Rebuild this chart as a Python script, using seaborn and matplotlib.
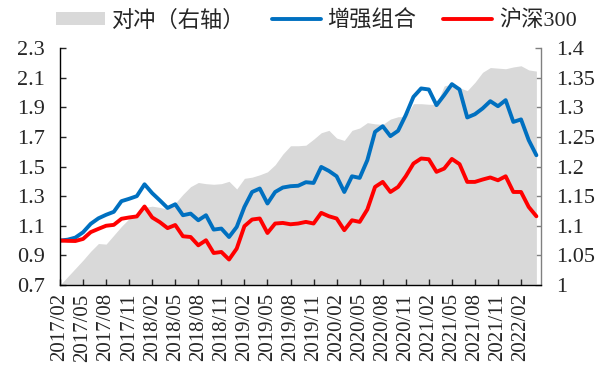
import numpy as np
import pandas as pd
import matplotlib
matplotlib.use("Agg")
import matplotlib.pyplot as plt
import seaborn as sns
from matplotlib.patches import Patch
from matplotlib.lines import Line2D

# -----------------------------
# data
# -----------------------------
months = pd.period_range("2017-02", "2022-04", freq="M").strftime("%Y/%m").tolist()

enhanced = [1.00, 1.006, 1.02, 1.056, 1.113, 1.15, 1.174, 1.194, 1.266, 1.282,
            1.30, 1.38, 1.32, 1.271, 1.22, 1.245, 1.171, 1.182, 1.137, 1.171,
            1.074, 1.081, 1.024, 1.092, 1.227, 1.328, 1.351, 1.25, 1.328, 1.358,
            1.367, 1.37, 1.394, 1.389, 1.497, 1.47, 1.434, 1.328, 1.434, 1.423,
            1.543, 1.734, 1.772, 1.705, 1.741, 1.847, 1.97, 2.027, 2.02, 1.914,
            1.982, 2.056, 2.02, 1.831, 1.853, 1.892, 1.941, 1.907, 1.948, 1.801,
            1.818, 1.678, 1.576]

hs300 = [1.00, 0.998, 0.997, 1.011, 1.057, 1.079, 1.10, 1.106, 1.147, 1.156,
         1.163, 1.23, 1.156, 1.124, 1.084, 1.105, 1.029, 1.024, 0.968, 1.002,
         0.916, 0.923, 0.872, 0.946, 1.097, 1.142, 1.149, 1.051, 1.115, 1.119,
         1.11, 1.115, 1.126, 1.115, 1.187, 1.164, 1.149, 1.07, 1.137, 1.126,
         1.21, 1.362, 1.396, 1.328, 1.362, 1.434, 1.52, 1.554, 1.549, 1.464,
         1.486, 1.551, 1.516, 1.396, 1.396, 1.412, 1.426, 1.407, 1.434, 1.328,
         1.328, 1.227, 1.164]

hedge = [1.000, 1.014, 1.028, 1.042, 1.057, 1.07, 1.069, 1.084, 1.099, 1.112,
         1.12, 1.131, 1.133, 1.131, 1.128, 1.138, 1.153, 1.166, 1.173, 1.171,
         1.17, 1.171, 1.175, 1.162, 1.18, 1.182, 1.186, 1.191, 1.203, 1.221,
         1.235, 1.235, 1.236, 1.246, 1.257, 1.261, 1.248, 1.244, 1.261, 1.265,
         1.274, 1.272, 1.271, 1.28, 1.284, 1.284, 1.306, 1.306, 1.305, 1.305,
         1.336, 1.339, 1.333, 1.328, 1.342, 1.359, 1.367, 1.366, 1.365, 1.368,
         1.37, 1.363, 1.361]

left_ticks = [0.7, 0.9, 1.1, 1.3, 1.5, 1.7, 1.9, 2.1, 2.3]
right_ticks = [1, 1.05, 1.1, 1.15, 1.2, 1.25, 1.3, 1.35, 1.4]
labels = ["对冲（右轴）", "增强组合", "沪深300"]

df = pd.DataFrame({"month": months, "enhanced": enhanced,
                   "hs300": hs300, "hedge": hedge})
df["pos"] = np.arange(len(df))

# -----------------------------
# style
# -----------------------------
sns.set_style("ticks")
plt.rcParams["font.family"] = ["Liberation Serif", "Noto Sans CJK SC"]
plt.rcParams["font.size"] = 16

BLUE = "#0070c0"
RED = "#ff0000"
GRAY = "#d9d9d9"

fig = plt.figure(figsize=(6.06, 3.78), dpi=100)
ax = fig.add_axes([60 / 606, 1 - 285 / 378, (541 - 60) / 606, (285 - 48) / 378])
ax2 = ax.twinx()

# hedge area on the right axis
ax2.fill_between(df["pos"], 1.0, df["hedge"], color=GRAY, lw=0)
ax2.set_ylim(1.0, 1.4)
ax2.set_yticks(right_ticks)
ax2.set_yticklabels([f"{t:g}" for t in right_ticks])

# lines on the left axis
sns.lineplot(data=df, x="pos", y="enhanced", ax=ax, color=BLUE, lw=2.8, legend=False)
sns.lineplot(data=df, x="pos", y="hs300", ax=ax, color=RED, lw=2.8, legend=False)
ax.set_zorder(ax2.get_zorder() + 1)
ax.patch.set_visible(False)

ax.set_ylim(0.7, 2.3)
ax.set_yticks(left_ticks)
ax.set_yticklabels([f"{t:.1f}" for t in left_ticks])
ax.set_xlim(0, 62.6)
ax.set_xticks(df["pos"][::3])
ax.set_xticklabels(df["month"][::3], rotation=90)
ax.set_xlabel("")
ax.set_ylabel("")

for a in (ax, ax2):
    a.spines["top"].set_visible(False)
    for s in a.spines.values():
        s.set_linewidth(1.0)
ax.spines["right"].set_visible(False)
ax2.spines["left"].set_visible(False)
ax2.spines["bottom"].set_visible(False)
ax.spines["left"].set_color("#000000")
ax.spines["bottom"].set_color("#000000")
ax2.spines["right"].set_color("#808080")

ax.tick_params(axis="y", direction="in", length=4, width=1, pad=11, labelsize=16)
ax.tick_params(axis="x", direction="in", length=4, width=1, pad=6, labelsize=15)
ax2.tick_params(axis="y", direction="in", length=4, width=1, color="#808080",
                pad=11, labelsize=16)

handles = [Patch(facecolor=GRAY, edgecolor="none"),
           Line2D([], [], color=BLUE, lw=2.8),
           Line2D([], [], color=RED, lw=2.8)]
fig.legend(handles, labels, loc="center", bbox_to_anchor=(0.522, 0.945), ncol=3,
           frameon=False, fontsize=16, handlelength=2.2, handleheight=0.5,
           handletextpad=0.3, columnspacing=1.2)

fig.savefig("out.png", dpi=100)
plt.close()
